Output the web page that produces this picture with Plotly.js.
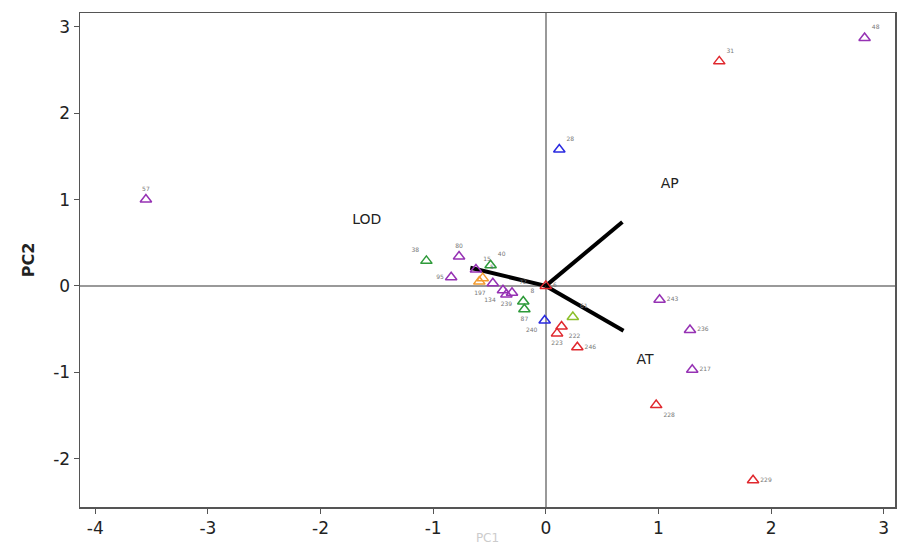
<!DOCTYPE html>
<html>
<head>
<meta charset="utf-8">
<script src="https://cdn.plot.ly/plotly-3.0.1.min.js"></script>
<style>html,body{margin:0;padding:0;background:#fff;}#chart{width:897px;height:545px;}</style>
</head>
<body>
<div id="chart"></div>
<script>
// Scores (PC1, PC2) by group
const purpleX = [-3.55, 2.83, 1.01, 1.28, 1.30, -0.77, -0.84, -0.62, -0.47, -0.38, -0.35, -0.30];
const purpleY = [1.00, 2.87, -0.16, -0.51, -0.97, 0.34, 0.10, 0.19, 0.03, -0.05, -0.10, -0.08];
const purpleLab = ["57", "48", "243", "236", "217", "80", "95", "15", "197", "134", "239", "72"];
const purplePos = ["top center", "top right", "middle right", "middle right", "middle right", "top center", "middle left", "top right", "bottom left", "bottom left", "bottom center", "top right"];

const redX = [1.54, 0.98, 1.84, 0.14, 0.10, 0.28, 0.00];
const redY = [2.60, -1.38, -2.25, -0.47, -0.55, -0.71, 0.00];
const redLab = ["31", "228", "229", "222", "223", "246", "6"];
const redPos = ["top right", "bottom right", "middle right", "bottom right", "bottom center", "middle right", "middle right"];

const blueX = [0.12, -0.01];
const blueY = [1.58, -0.40];
const blueLab = ["28", "240"];
const bluePos = ["top right", "bottom left"];

const greenX = [-1.06, -0.49, -0.20, -0.19];
const greenY = [0.29, 0.24, -0.18, -0.27];
const greenLab = ["38", "40", "8", "87"];
const greenPos = ["top left", "top right", "top right", "bottom center"];

const orangeX = [-0.56, -0.59];
const orangeY = [0.09, 0.05];
const orangeLab = ["5", ""];
const orangePos = ["top right", "top right"];

const limeX = [0.24];
const limeY = [-0.36];
const limeLab = ["61"];
const limePos = ["top right"];

// Loadings
const vecNames = ["LOD", "AP", "AT"];
const vecX = [-0.67, 0.68, 0.69];
const vecY = [0.21, 0.74, -0.52];
const vecLabX = [-1.59, 1.10, 0.88];
const vecLabY = [0.76, 1.18, -0.86];

// Tick labels
const xTicks = [-4, -3, -2, -1, 0, 1, 2, 3];
const xTickText = ["-4", "-3", "-2", "-1", "0", "1", "2", "3"];
const yTicks = [-2, -1, 0, 1, 2, 3];
const yTickText = ["-2", "-1", "0", "1", "2", "3"];

function pts(x, y, lab, pos, color) {
  return {
    type: 'scatter', mode: 'markers+text', x: x, y: y, text: lab, textposition: pos,
    textfont: {family: 'DejaVu Sans', size: 6, color: '#777'},
    marker: {symbol: 'triangle-up-open', size: 10, color: color, line: {width: 1.5, color: color}},
    hoverinfo: 'none', cliponaxis: false
  };
}

const traces = [];
for (let i = 0; i < vecNames.length; i++) {
  traces.push({type: 'scatter', mode: 'lines', x: [0, vecX[i]], y: [0, vecY[i]],
    line: {color: '#000', width: 4}, hoverinfo: 'none'});
}
traces.push(pts(greenX, greenY, greenLab, greenPos, '#2e9a3a'));
traces.push(pts(orangeX, orangeY, orangeLab, orangePos, '#f29a2e'));
traces.push(pts(limeX, limeY, limeLab, limePos, '#8cbf2a'));
traces.push(pts(blueX, blueY, blueLab, bluePos, '#2a2ae0'));
traces.push(pts(redX, redY, redLab, redPos, '#e0282e'));
traces.push(pts(purpleX, purpleY, purpleLab, purplePos, '#9632b4'));
traces.push({type: 'scatter', mode: 'text', x: vecLabX, y: vecLabY, text: vecNames,
  textfont: {family: 'DejaVu Sans', size: 14, color: '#222'}, hoverinfo: 'none'});

const layout = {
  width: 897, height: 545,
  margin: {l: 80, r: 2, t: 13, b: 38},
  paper_bgcolor: '#fff', plot_bgcolor: '#fff',
  showlegend: false,
  font: {family: 'DejaVu Sans', color: '#222'},
  xaxis: {
    range: [-4.135, 3.1], tickvals: xTicks, ticktext: xTickText,
    showgrid: false, zeroline: true, zerolinecolor: '#999', zerolinewidth: 2,
    showline: true, linecolor: '#555', linewidth: 1.5, mirror: true,
    ticks: 'outside', ticklen: 5, tickcolor: '#555',
    tickfont: {size: 17, color: '#222'},
    title: {text: '<br>PC1', font: {size: 12, color: '#ccc'}}
  },
  yaxis: {
    range: [-2.56, 3.16], tickvals: yTicks, ticktext: yTickText,
    showgrid: false, zeroline: true, zerolinecolor: '#999', zerolinewidth: 2,
    showline: true, linecolor: '#555', linewidth: 1.5, mirror: true,
    ticks: 'outside', ticklen: 5, tickcolor: '#555',
    tickfont: {size: 17, color: '#222'},
    title: {text: '<b>PC2</b>', font: {size: 16, color: '#222'}, standoff: 14}
  }
};

Plotly.newPlot('chart', traces, layout, {displayModeBar: false, staticPlot: true});
</script>
</body>
</html>
